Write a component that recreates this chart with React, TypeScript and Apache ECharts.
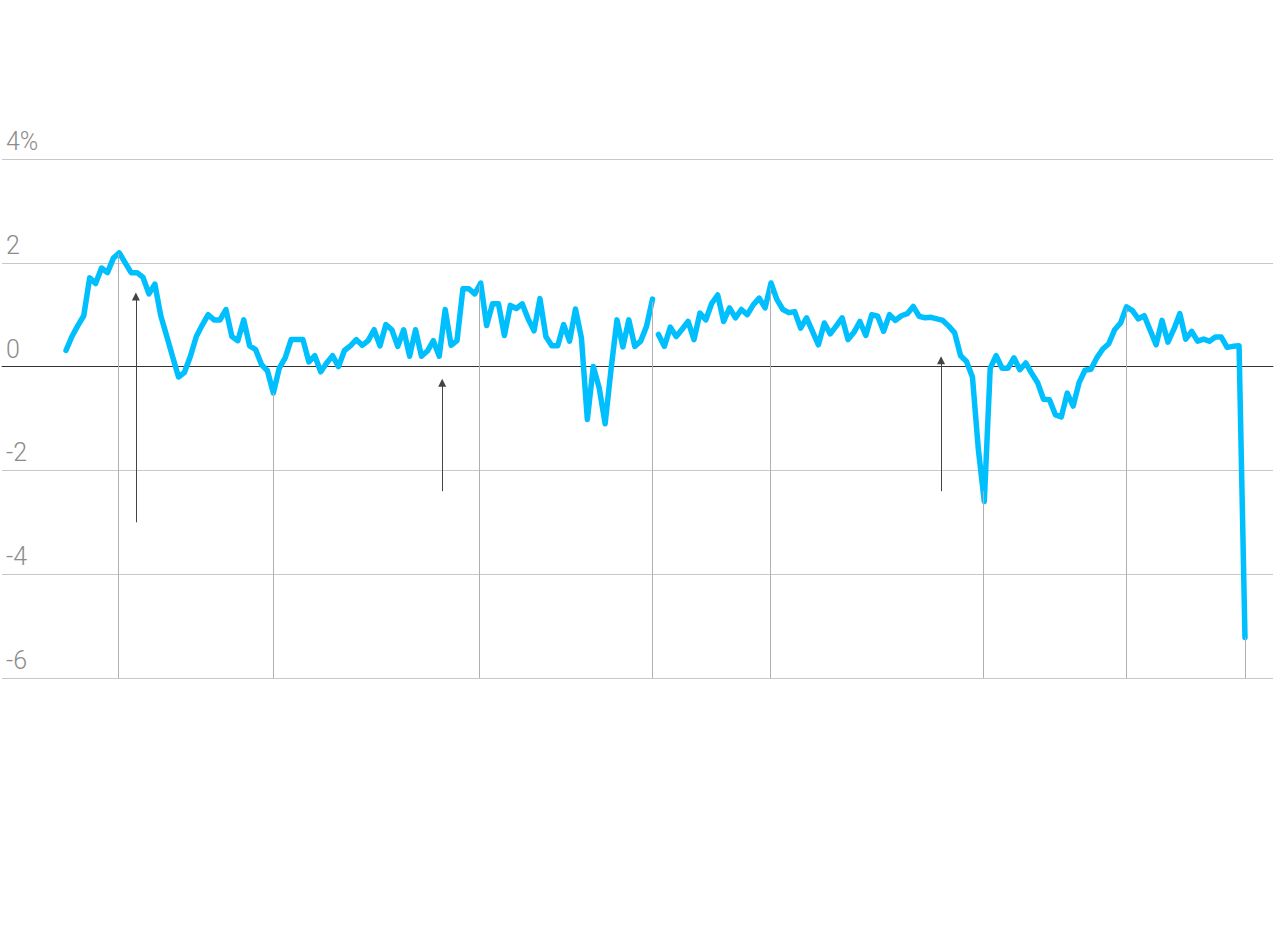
import { useEffect, useRef } from "react";
import * as echarts from "echarts";

// Series values (%), index = period number
const valuesBefore = [
  0.31, 0.58, 0.79, 0.98, 1.71, 1.6, 1.9, 1.81, 2.09, 2.19,
  2.0, 1.81, 1.81, 1.72, 1.4, 1.59, 0.98, 0.59, 0.19, -0.2,
  -0.11, 0.2, 0.58, 0.8, 1.0, 0.9, 0.9, 1.1, 0.58, 0.5,
  0.9, 0.4, 0.33, 0.04, -0.08, -0.51, -0.03, 0.17, 0.52, 0.52,
  0.52, 0.09, 0.21, -0.1, 0.07, 0.21, 0.0, 0.31, 0.4, 0.52,
  0.41, 0.5, 0.71, 0.4, 0.81, 0.71, 0.39, 0.71, 0.2, 0.71,
  0.2, 0.3, 0.5, 0.2, 1.1, 0.41, 0.5, 1.5, 1.5, 1.4,
  1.61, 0.79, 1.21, 1.21, 0.6, 1.18, 1.12, 1.21, 0.92, 0.69,
  1.31, 0.58, 0.4, 0.4, 0.81, 0.49, 1.11, 0.55, -1.02, 0.0,
  -0.41, -1.1, -0.05, 0.9, 0.38, 0.9, 0.39, 0.49, 0.78, 1.3,
];
const valuesAfter = [
  0.62, 0.39, 0.76, 0.58, 0.72, 0.87, 0.52, 1.03, 0.9, 1.22,
  1.38, 0.87, 1.13, 0.94, 1.1, 1.0, 1.19, 1.32, 1.13, 1.61,
  1.29, 1.1, 1.04, 1.06, 0.74, 0.94, 0.68, 0.42, 0.84, 0.63,
  0.78, 0.94, 0.52, 0.66, 0.87, 0.6, 1.0, 0.97, 0.68, 1.0,
  0.89, 0.98, 1.02, 1.16, 0.97, 0.94, 0.95, 0.92, 0.89, 0.78,
  0.65, 0.21, 0.1, -0.2, -1.6, -2.6, -0.03, 0.21, -0.03, -0.03,
  0.17, -0.06, 0.07, -0.13, -0.31, -0.63, -0.64, -0.93, -0.97, -0.51,
  -0.76, -0.31, -0.07, -0.05, 0.17, 0.34, 0.44, 0.71, 0.84, 1.15,
  1.08, 0.92, 0.98, 0.7, 0.42, 0.89, 0.47, 0.72, 1.02, 0.53,
  0.68, 0.49, 0.53, 0.49, 0.57, 0.57, 0.37, 0.39, 0.4, -5.22,
];
const afterStart = valuesBefore.length;

// Y axis ticks
const yMin = -6;
const yMax = 4;
const yStep = 2;

// Vertical marker positions (period index)
const markerPositions = [8.8, 35, 69.8, 98.9, 118.8, 154.8, 178.9, 199];

// Annotation arrows (period index, from value, to value)
const arrowPositions = [11.8, 63.5, 147.7];
const arrowFrom = [-3.0, -2.4, -2.4];
const arrowTo = [1.35, -0.31, 0.12];

const allValues = valuesBefore.concat(valuesAfter);
function valueAt(pos: number): number {
  const i = Math.floor(pos);
  const f = pos - i;
  if (i >= allValues.length - 1) return allValues[allValues.length - 1];
  return allValues[i] * (1 - f) + allValues[i + 1] * f;
}

export default function App() {
  const ref = useRef<HTMLDivElement>(null);
  useEffect(() => {
    if (!ref.current) return;
    const chart = echarts.init(ref.current, undefined, { renderer: "svg" });
    const lineStyle = { width: 5.5, color: "#00bfff", join: "round", cap: "round" };
    chart.setOption({
      animation: false,
      backgroundColor: "#ffffff",
      grid: { left: 2, right: 7, top: 159, bottom: 250 },
      xAxis: {
        type: "value",
        min: -10.8,
        max: 203.73,
        axisLine: { show: true, onZero: true, lineStyle: { color: "#333333", width: 1 } },
        axisTick: { show: false },
        axisLabel: { show: false },
        splitLine: { show: false },
      },
      yAxis: {
        type: "value",
        min: yMin,
        max: yMax,
        interval: yStep,
        axisLine: { show: false },
        axisTick: { show: false },
        splitLine: { show: true, lineStyle: { color: "#c8c8c8", width: 1 } },
        axisLabel: {
          inside: true,
          margin: 4,
          color: "#8c8c8c",
          fontSize: 25,
          fontFamily: "Roboto",
          fontWeight: 300,
          verticalAlign: "bottom",
          padding: [0, 0, 5, 0],
          formatter: (v: number) => (v === yMax ? `${v}%` : `${v}`),
        },
      },
      series: [
        {
          type: "line",
          data: [],
          z: 1,
          silent: true,
          markLine: {
            symbol: ["none", "none"],
            silent: true,
            label: { show: false },
            lineStyle: { color: "#b0b0b0", width: 1, type: "solid" },
            data: markerPositions.map((p) => [
              { coord: [p, valueAt(p)] },
              { coord: [p, yMin] },
            ]),
          },
        },
        {
          type: "line",
          data: [],
          z: 2,
          silent: true,
          markLine: {
            symbol: ["none", "triangle"],
            symbolSize: [8, 8],
            silent: true,
            label: { show: false },
            lineStyle: { color: "#444444", width: 1, type: "solid" },
            itemStyle: { color: "#444444" },
            data: arrowPositions.map((p, i) => [
              { coord: [p, arrowFrom[i]] },
              { coord: [p, arrowTo[i]] },
            ]),
          },
        },
        {
          type: "line",
          z: 3,
          symbol: "none",
          lineStyle,
          data: valuesBefore.map((v, i) => [i, v]),
        },
        {
          type: "line",
          z: 3,
          symbol: "none",
          lineStyle,
          data: valuesAfter.map((v, i) => [afterStart + i, v]),
        },
      ],
    });
    return () => chart.dispose();
  }, []);
  return (
    <div
      ref={ref}
      style={{ position: "fixed", left: 0, top: 0, width: 1280, height: 928 }}
    />
  );
}
